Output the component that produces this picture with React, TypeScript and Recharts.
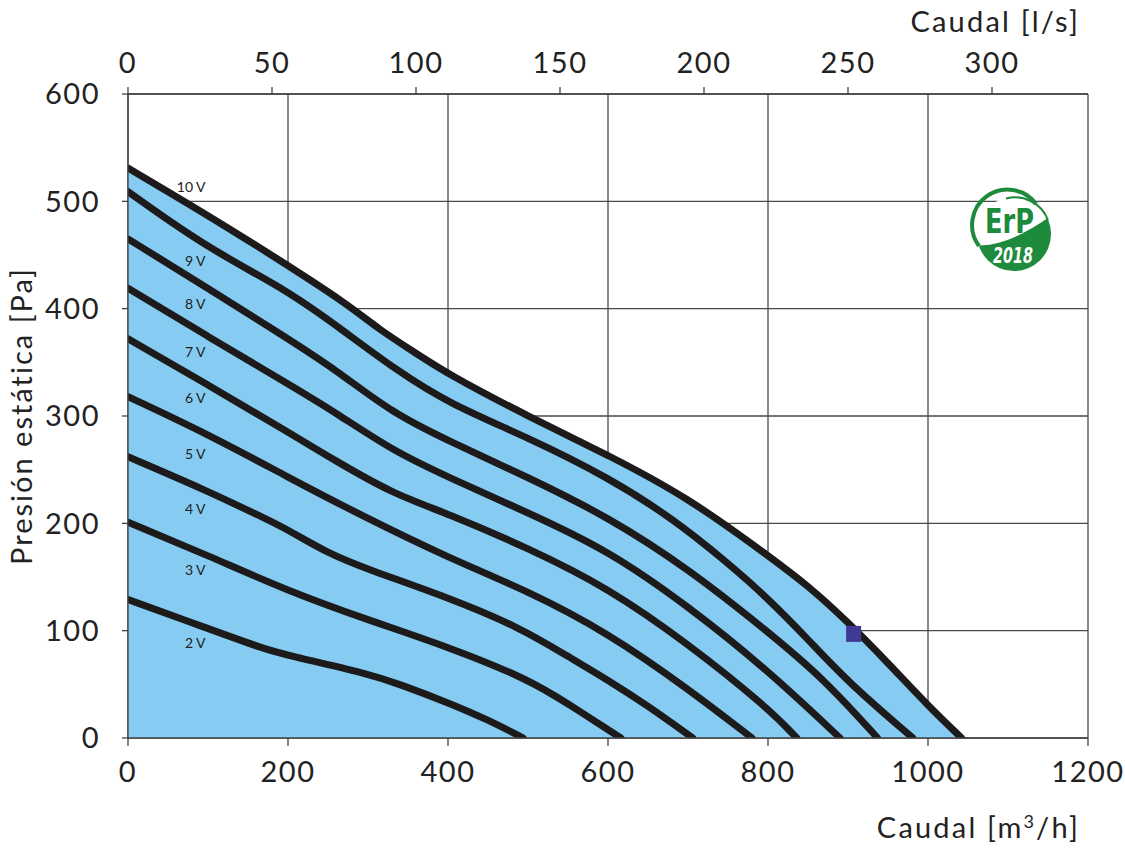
import { ComposedChart, Area, Line, Scatter, XAxis, YAxis, CartesianGrid } from 'recharts';

// airflow (m3/h) vs static pressure (Pa), one curve per control voltage
const curve2V = [[0, 129], [100, 102], [170, 83], [200, 77], [300, 60], [340, 50], [400, 33], [450, 17], [494, 0]];
const curve3V = [[0, 201], [100, 170], [200, 137], [300, 110], [400, 85], [500, 55], [550, 32], [616, 0]];
const curve4V = [[0, 262], [100, 230], [170, 205], [200, 194], [250, 172], [300, 157], [400, 131], [490, 103], [550, 76], [600, 54], [650, 30], [706, 0]];
const curve5V = [[0, 318], [100, 283], [200, 243], [290, 208], [400, 168], [500, 137], [600, 98], [700, 46], [780, 0]];
const curve6V = [[0, 372], [100, 329], [200, 285], [260, 258], [330, 228], [400, 209], [500, 177], [600, 140], [700, 88], [800, 28], [836, 0]];
const curve7V = [[0, 419], [100, 374], [200, 330], [260, 303], [330, 268], [400, 243], [500, 210], [600, 175], [700, 123], [800, 63], [890, 0]];
const curve8V = [[0, 465], [100, 419], [200, 372], [260, 343], [330, 303], [400, 277], [500, 243], [600, 206], [700, 158], [800, 99], [870, 55], [937, 0]];
const curve9V = [[0, 509], [100, 456], [200, 417], [270, 379], [335, 343], [400, 312], [500, 280], [600, 243], [680, 205], [750, 163], [800, 130], [850, 92], [900, 52], [981, 0]];
const curve10V = [[0, 531], [100, 487], [190, 445], [273, 405], [315, 380], [357, 360], [402, 338], [502, 299], [602, 263], [700, 224], [800, 170], [850, 142], [900, 108], [950, 70], [1000, 30], [1042, 0]];

const voltageNames = ['2 V', '3 V', '4 V', '5 V', '6 V', '7 V', '8 V', '9 V', '10 V'];
const labelPressure = [89, 157, 214, 265, 317, 360, 405, 445, 514];
const labelFlow = 97;

const markerPoint = [[907, 97]];

const m3hTicks = [0, 200, 400, 600, 800, 1000, 1200];
const lsTicks = [0, 50, 100, 150, 200, 250, 300];
const paTicks = [0, 100, 200, 300, 400, 500, 600];

const toPts = (arr: number[][]) => arr.map(([q, p]) => ({ q, p }));

const curves = [curve2V, curve3V, curve4V, curve5V, curve6V, curve7V, curve8V, curve9V, curve10V].map(toPts);
const labelPts = voltageNames.map((t, i) => ({ q: labelFlow, p: labelPressure[i], t }));
// invisible anchors so the l/s axis gets drawn
const lsAnchors = lsTicks.map((q) => ({ q, p: 600 }));

const FONT = 'Lato, "Noto Sans", sans-serif';
const tickStyle = { fill: '#222', fontSize: 29, fontFamily: FONT, letterSpacing: 1.5 };
const GREEN = '#1e8a3c';

function VoltLabel(props: any) {
  const { cx, cy, payload } = props;
  return (
    <text x={cx} y={cy} textAnchor="end" dominantBaseline="central" fontSize={14} fontFamily={FONT} fill="#222">
      {payload.t}
    </text>
  );
}

function MarkerSquare(props: any) {
  const { cx, cy } = props;
  return <rect x={cx - 7.5} y={cy - 8} width={15} height={16} fill="#3f3b94" />;
}

function Nothing() {
  return null;
}

function ErpLogo() {
  const cx = 1014;
  const cy = 234;
  const r = 37;
  return (
    <g>
      <defs>
        <clipPath id="erpClip">
          <circle cx={cx} cy={cy} r={r} />
        </clipPath>
      </defs>
      <circle cx={cx} cy={cy} r={r} fill="#fff" />
      <path
        clipPath="url(#erpClip)"
        d={`M ${cx - 45} ${cy + 10} C ${cx - 20} ${cy + 16}, ${cx + 10} ${cy + 2}, ${cx + 45} ${cy - 24} L ${cx + 45} ${cy + 45} L ${cx - 45} ${cy + 45} Z`}
        fill={GREEN}
      />
      <path
        d={`M ${cx + 22} ${cy - r + 7} A ${r - 2} ${r - 2} 0 1 0 ${cx - r + 2} ${cy + 12}`}
        fill="none"
        stroke={GREEN}
        strokeWidth={4}
      />
      <path
        d={`M ${cx - 8} ${cy - r + 1.5} A ${r - 1.5} ${r - 1.5} 0 0 1 ${cx + r - 3} ${cy - 14}`}
        fill="none"
        stroke={GREEN}
        strokeWidth={2}
      />
      <text
        x={cx - 29}
        y={cy - 1}
        fontSize={34}
        fontWeight="bold"
        fontFamily='"DejaVu Sans", sans-serif'
        fill={GREEN}
        stroke="#fff"
        strokeWidth={0.8}
        paintOrder="stroke"
        textLength={49}
        lengthAdjust="spacingAndGlyphs"
      >
        ErP
      </text>
      <text
        x={cx - 21}
        y={cy + 29}
        fontSize={22}
        fontWeight="bold"
        fontStyle="italic"
        fontFamily='"DejaVu Sans", sans-serif'
        fill="#fff"
        textLength={40}
        lengthAdjust="spacingAndGlyphs"
      >
        2018
      </text>
    </g>
  );
}

export default function App() {
  return (
    <div style={{ position: 'absolute', left: 0, top: 0, width: 1125, height: 848, background: '#fff' }}>
      <ComposedChart width={1125} height={848} margin={{ top: 54, right: 37, bottom: 70, left: 28 }}>
        <XAxis
          xAxisId="m3"
          dataKey="q"
          type="number"
          orientation="bottom"
          domain={[0, 1200]}
          ticks={m3hTicks}
          allowDataOverflow
          height={40}
          tick={tickStyle}
          tickSize={8}
          tickMargin={15}
          tickLine={{ stroke: '#444', strokeWidth: 1.3 }}
          axisLine={{ stroke: '#444', strokeWidth: 1.3 }}
        />
        <XAxis
          xAxisId="ls"
          dataKey="q"
          type="number"
          orientation="top"
          domain={[0, 1200 / 3.6]}
          ticks={lsTicks}
          allowDataOverflow
          height={40}
          tick={tickStyle}
          tickSize={7}
          tickMargin={14}
          tickLine={{ stroke: '#444', strokeWidth: 1.3 }}
          axisLine={{ stroke: '#444', strokeWidth: 1.3 }}
        />
        <YAxis
          yAxisId="pa"
          dataKey="p"
          type="number"
          domain={[0, 600]}
          ticks={paTicks}
          allowDataOverflow
          width={100}
          tick={tickStyle}
          tickSize={6}
          tickMargin={22}
          tickLine={{ stroke: '#444', strokeWidth: 1.3 }}
          axisLine={{ stroke: '#444', strokeWidth: 1.3 }}
        />
        <Area
          xAxisId="m3"
          yAxisId="pa"
          data={curves[8]}
          dataKey="p"
          type="basis"
          fill="#86ccf2"
          fillOpacity={1}
          stroke="none"
          isAnimationActive={false}
          dot={false}
          activeDot={false}
        />
        <CartesianGrid xAxisId="m3" yAxisId="pa" stroke="#4a4a4a" strokeWidth={1.3} />
        {curves.map((c, i) => (
          <Line
            key={voltageNames[i]}
            xAxisId="m3"
            yAxisId="pa"
            data={c}
            dataKey="p"
            type="basis"
            stroke="#1c1a1a"
            strokeWidth={7}
            strokeLinecap="round"
            dot={false}
            activeDot={false}
            isAnimationActive={false}
          />
        ))}
        <Scatter
          xAxisId="ls"
          yAxisId="pa"
          data={lsAnchors}
          dataKey="p"
          shape={<Nothing />}
          isAnimationActive={false}
        />
        <Scatter
          xAxisId="m3"
          yAxisId="pa"
          data={labelPts}
          dataKey="p"
          shape={<VoltLabel />}
          isAnimationActive={false}
        />
        <Scatter
          xAxisId="m3"
          yAxisId="pa"
          data={toPts(markerPoint)}
          dataKey="p"
          shape={<MarkerSquare />}
          isAnimationActive={false}
        />
      </ComposedChart>
      <svg
        width={1125}
        height={848}
        style={{ position: 'absolute', left: 0, top: 0, pointerEvents: 'none' }}
      >
        <text x={1080} y={32} textAnchor="end" fontSize={29} fontFamily={FONT} fill="#222" letterSpacing={2.2}>
          Caudal [l/s]
        </text>
        <text x={1080} y={838} textAnchor="end" fontSize={29} fontFamily={FONT} fill="#222" letterSpacing={2.2}>
          Caudal [m<tspan dy={-10} fontSize={18}>3</tspan><tspan dy={10}>/h]</tspan>
        </text>
        <text
          x={0}
          y={0}
          transform="translate(32 416) rotate(-90)"
          textAnchor="middle"
          fontSize={29}
          fontFamily={FONT}
          fill="#222"
          letterSpacing={2}
        >
          Presión estática [Pa]
        </text>
        <ErpLogo />
      </svg>
    </div>
  );
}
